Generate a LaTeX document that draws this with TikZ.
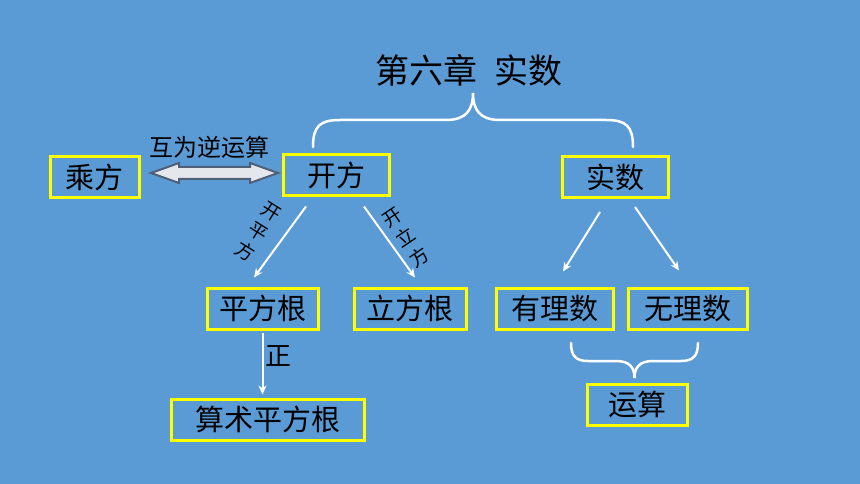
\documentclass[tikz,border=0pt]{standalone}
\usepackage{fontspec}
\newfontfamily\cjk{Noto Sans CJK SC}
\usetikzlibrary{arrows.meta,calc}
\definecolor{bg}{HTML}{5B9BD5}
\definecolor{boxyellow}{HTML}{FFFF00}
\definecolor{arrowedge}{HTML}{4E5F78}
\definecolor{arrowfill}{HTML}{E4E7EC}
\begin{document}
\begin{tikzpicture}[x=1pt,y=-1pt,
  box/.style={draw=boxyellow, line width=3pt, minimum height=41pt, inner sep=0pt,
    font=\cjk\fontsize{29}{32}\selectfont, text=black},
  arr/.style={draw=white, line width=2pt, -{Stealth[length=9pt,width=8pt]}},
  lbl/.style={font=\cjk\fontsize{19}{24}\selectfont, align=center, inner sep=0pt, text=black},
  brace/.style={draw=white, line width=2.5pt, line cap=round}]
\fill[bg] (0,0) rectangle (860,484);
\useasboundingbox (0,0) rectangle (860,484);

% title
\node[font=\cjk\fontsize{34}{38}\selectfont] (title) at (469,70) {第六章\hspace{0.5em}实数};

% boxes
\node[box, minimum width=89pt]  (cf)    at (94.5,177.5) {乘方};
\node[box, minimum width=106pt] (kf)    at (336,175.5)  {开方};
\node[box, minimum width=106pt] (ss)    at (615,177)    {实数};
\node[box, minimum width=111pt] (pfg)   at (262.5,308.5){平方根};
\node[box, minimum width=112pt] (lfg)   at (410,308.5)  {立方根};
\node[box, minimum width=117pt] (yls)   at (554.5,308.5){有理数};
\node[box, minimum width=119pt] (wls)   at (687.5,308.5){无理数};
\node[box, minimum width=193pt] (sspfg) at (267.5,419.5){算术平方根};
\node[box, minimum width=100pt] (ys)    at (637,404.5)  {运算};

% top brace
\draw[brace] (313,147) .. controls (313,126) and (320,120) .. (340,120) -- (446,120)
  .. controls (466,120) and (473,110) .. (473,93)
  .. controls (473,110) and (480,120) .. (500,120) -- (606,120)
  .. controls (626,120) and (633,126) .. (633,147);

% bottom brace
\draw[brace] (571,343) .. controls (571,356) and (576,361) .. (588,361) -- (616,361)
  .. controls (630,361) and (634.5,368) .. (634.5,378)
  .. controls (634.5,368) and (639,361) .. (653,361) -- (681,361)
  .. controls (693,361) and (698,356) .. (698,343);

% double arrow
\draw[draw=arrowedge, fill=arrowfill, line width=2pt, line join=miter]
  (151,173) -- (179,163) -- (179,167) -- (250,167) -- (250,163) -- (278,173)
  -- (250,183) -- (250,179) -- (179,179) -- (179,183) -- cycle;
\node[font=\cjk\fontsize{24}{27}\selectfont] (hw) at (209,147) {互为逆运算};

% arrows
\draw[arr] ($(kf.south)+(-30,9)$) -- ($(pfg.north)+(-8.5,-9)$);
\draw[arr] ($(kf.south)+(28,9)$) -- ($(lfg.north)+(5,-9)$);
\draw[arr] ($(ss.south)+(-15,13)$) -- ($(yls.north)+(8.5,-15)$);
\draw[arr] ($(ss.south)+(20,8)$) -- ($(wls.north)+(-8.5,-16)$);
\draw[arr] ($(pfg.south)+(0,2)$) -- ($(sspfg.north -| pfg.south)+(0,-3)$);

% labels
\node[lbl, rotate=-32] (kpf) at (258,232) {开\\平\\方};
\node[lbl, rotate=34]  (klf) at (406,238) {开\\立\\方};
\node[font=\cjk\fontsize{26}{29}\selectfont] (zh) at (278,356) {正};
\end{tikzpicture}
\end{document}
